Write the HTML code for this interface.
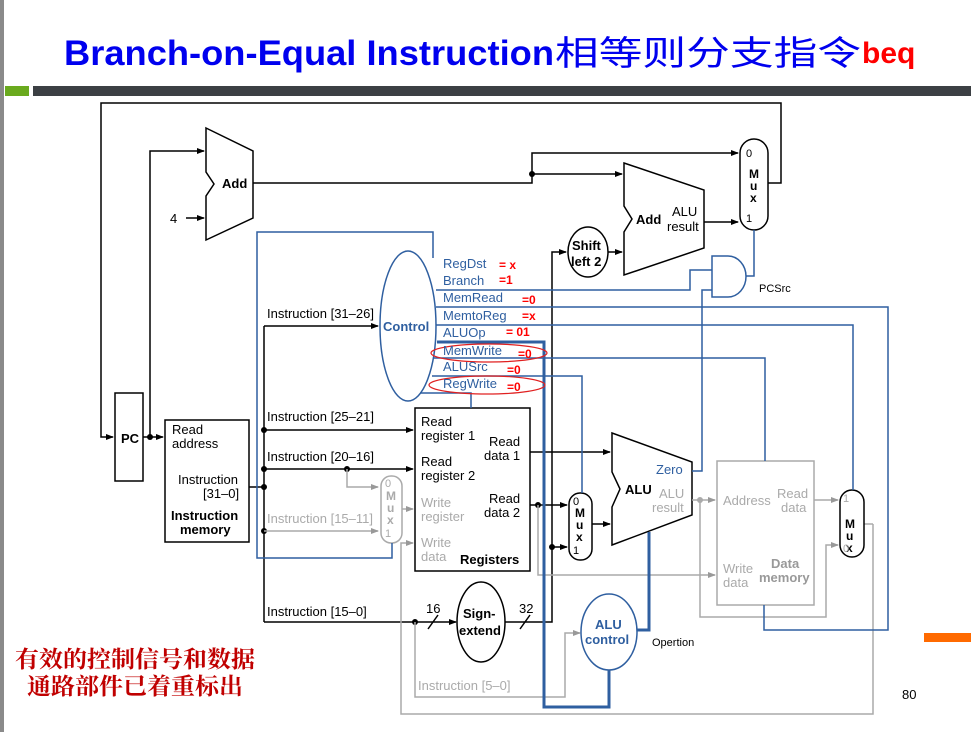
<!DOCTYPE html>
<html><head><meta charset="utf-8"><style>
body{margin:0;background:#fff;}
svg{display:block;}
text{font-family:"Liberation Sans","Noto Sans CJK SC",sans-serif;}
</style></head><body>
<svg width="971" height="732" viewBox="0 0 971 732" xmlns="http://www.w3.org/2000/svg">
<defs>
<marker id="a" markerWidth="8" markerHeight="8" refX="7" refY="4" orient="auto" markerUnits="userSpaceOnUse"><path d="M0,1 L8,4 L0,7 Z" fill="#000"/></marker>
<marker id="g" markerWidth="8" markerHeight="8" refX="7" refY="4" orient="auto" markerUnits="userSpaceOnUse"><path d="M0,1 L8,4 L0,7 Z" fill="#999"/></marker>
</defs>
<rect x="0" y="0" width="4" height="732" fill="#8a8a8a"/>
<text x="64" y="65" font-size="35" font-weight="bold" fill="#0000ee" textLength="490" lengthAdjust="spacingAndGlyphs">Branch-on-Equal Instruction</text>
<text x="555" y="65" font-size="34" fill="#0000ee" font-family="Noto Sans CJK SC,sans-serif" textLength="306" lengthAdjust="spacingAndGlyphs">相等则分支指令</text>
<text x="862" y="63" font-size="30" font-weight="bold" fill="#ff0000">beq</text>
<rect x="5" y="86" width="24" height="10" fill="#6aaa1e"/>
<rect x="33" y="86" width="938" height="10" fill="#3c4044"/>

<g fill="none" stroke="#000" stroke-width="1.5">
<polyline points="768,183 781,183 781,103 101,103 101,437 113,437" marker-end="url(#a)"/>
<rect x="115" y="393" width="28" height="88"/>
<line x1="143" y1="437" x2="163" y2="437" marker-end="url(#a)"/>
<polyline points="150,437 150,151 204,151" marker-end="url(#a)"/>
<line x1="186" y1="218" x2="204" y2="218" marker-end="url(#a)"/>
<polygon points="206,128 253,151 253,218 206,240 206,196 214,184 206,172"/>
<polyline points="253,183 532,183 532,174 622,174" marker-end="url(#a)"/>
<polyline points="532,174 532,153 738,153" marker-end="url(#a)"/>
<polygon points="624,163 704,190 704,248 624,275 624,232 632,219 624,206"/>
<line x1="704" y1="222" x2="738" y2="222" marker-end="url(#a)"/>
<rect x="740" y="139" width="28" height="91" rx="14"/>
<ellipse cx="588" cy="252" rx="20" ry="25"/>
<line x1="608" y1="252" x2="622" y2="252" marker-end="url(#a)"/>
<polyline points="505,622 552,622 552,252 566,252" marker-end="url(#a)"/>
<polyline points="552,547 567,547" marker-end="url(#a)"/>
<rect x="165" y="420" width="84" height="122"/>
<polyline points="249,487 264,487"/>
<line x1="264" y1="326" x2="264" y2="622"/>
<line x1="264" y1="326" x2="378" y2="326" marker-end="url(#a)"/>
<line x1="264" y1="430" x2="413" y2="430" marker-end="url(#a)"/>
<line x1="264" y1="469" x2="413" y2="469" marker-end="url(#a)"/>
<line x1="264" y1="622" x2="456" y2="622" marker-end="url(#a)"/>
<rect x="415" y="408" width="115" height="163"/>
<line x1="530" y1="452" x2="610" y2="452" marker-end="url(#a)"/>
<line x1="530" y1="505" x2="567" y2="505" marker-end="url(#a)"/>
<line x1="592" y1="524" x2="610" y2="524" marker-end="url(#a)"/>
<rect x="569" y="493" width="23" height="67" rx="11"/>
<polygon points="612,433 692,462 692,515 612,545 612,507 620,489 612,472"/>
<ellipse cx="481" cy="622" rx="24" ry="40"/>
<line x1="428" y1="629" x2="438" y2="615"/>
<line x1="520" y1="629" x2="530" y2="615"/>
</g>
<g fill="#000">
<circle cx="150" cy="437" r="3"/><circle cx="532" cy="174" r="3"/>
<circle cx="264" cy="487" r="3"/><circle cx="264" cy="430" r="3"/><circle cx="264" cy="469" r="3"/><circle cx="264" cy="531" r="3"/>
<circle cx="347" cy="469" r="3"/><circle cx="415" cy="622" r="3"/><circle cx="538" cy="505" r="3"/><circle cx="552" cy="547" r="3"/>
</g>
<g fill="none" stroke="#aaa" stroke-width="1.5">
<line x1="264" y1="531" x2="378" y2="531" marker-end="url(#g)"/>
<polyline points="347,469 347,487 378,487" marker-end="url(#g)"/>
<rect x="381" y="476" width="21" height="67" rx="10"/>
<line x1="402" y1="509" x2="413" y2="509" marker-end="url(#g)"/>
<polyline points="873,524 873,714 401,714 401,543 413,543" marker-end="url(#g)"/>
<polyline points="415,622 415,697 565,697 565,633 580,633" marker-end="url(#g)"/>
<polyline points="538,505 538,575 715,575" marker-end="url(#g)"/>
<line x1="692" y1="500" x2="715" y2="500" marker-end="url(#g)"/>
<polyline points="700,500 700,617 826,617 826,545 838,545" marker-end="url(#g)"/>
<rect x="717" y="461" width="97" height="144"/>
<line x1="814" y1="500" x2="838" y2="500" marker-end="url(#g)"/>
<line x1="864" y1="524" x2="873" y2="524"/>
</g>
<circle cx="700" cy="500" r="3" fill="#aaa"/>
<rect x="840" y="490" width="24" height="67" rx="12" fill="none" stroke="#000" stroke-width="1.5"/>
<g fill="none" stroke="#2f5fa0" stroke-width="1.5">
<ellipse cx="408" cy="326" rx="28" ry="75"/>
<polyline points="433,258 433,232 257,232 257,558 392,558 392,543"/>
<polyline points="436,290 690,290 690,270 712,270"/>
<path d="M712,256 L728,256 A18,20.5 0 0 1 728,297 L712,297 Z"/>
<polyline points="746,276 754,276 754,230"/>
<polyline points="692,471 702,471 702,290 712,290"/>
<polyline points="436,307 888,307 888,630 764,630 764,605"/>
<polyline points="436,325 853,325 853,490"/>
<polyline points="434,358 765,358 765,461"/>
<polyline points="432,376 582,376 582,493"/>
<polyline points="420,393 471,393 471,408"/>
<ellipse cx="609" cy="632" rx="28" ry="38"/>
</g>
<g fill="none" stroke="#2f5fa0" stroke-width="3">
<polyline points="437,342 544,342 544,707 609,707 609,670"/>
<polyline points="649,532 649,630 637,630"/>
</g>
<g fill="none" stroke="#e02020" stroke-width="1.2">
<ellipse cx="489" cy="353" rx="58" ry="9"/>
<ellipse cx="487" cy="385" rx="58" ry="9"/>
</g>
<g font-size="13" fill="#000">
<text x="222" y="188" font-weight="bold">Add</text>
<text x="170" y="223">4</text>
<text x="636" y="224" font-weight="bold">Add</text>
<text x="672" y="216">ALU</text><text x="667" y="231">result</text>
<text x="746" y="157" font-size="11">0</text>
<text x="749" y="178" font-size="12" font-weight="bold">M</text>
<text x="750" y="190" font-size="12" font-weight="bold">u</text>
<text x="750" y="202" font-size="12" font-weight="bold">x</text>
<text x="746" y="222" font-size="11">1</text>
<text x="572" y="250" font-weight="bold">Shift</text><text x="571" y="266" font-weight="bold">left 2</text>
<text x="121" y="443" font-weight="bold">PC</text>
<text x="172" y="434">Read</text><text x="172" y="448">address</text>
<text x="178" y="484">Instruction</text><text x="203" y="498">[31–0]</text>
<text x="171" y="520" font-weight="bold">Instruction</text><text x="180" y="534" font-weight="bold">memory</text>
<text x="267" y="318">Instruction [31–26]</text>
<text x="267" y="421">Instruction [25–21]</text>
<text x="267" y="461">Instruction [20–16]</text>
<text x="267" y="616">Instruction [15–0]</text>
<text x="421" y="426">Read</text><text x="421" y="440">register 1</text>
<text x="421" y="466">Read</text><text x="421" y="480">register 2</text>
<text x="489" y="446">Read</text><text x="484" y="460">data 1</text>
<text x="489" y="503">Read</text><text x="484" y="517">data 2</text>
<text x="460" y="564" font-weight="bold">Registers</text>
<text x="463" y="618" font-weight="bold">Sign-</text><text x="459" y="635" font-weight="bold">extend</text>
<text x="426" y="613">16</text><text x="519" y="613">32</text>
<text x="625" y="494" font-weight="bold">ALU</text>
<text x="573" y="505" font-size="11">0</text>
<text x="575" y="517" font-size="12" font-weight="bold">M</text>
<text x="576" y="529" font-size="12" font-weight="bold">u</text>
<text x="576" y="541" font-size="12" font-weight="bold">x</text>
<text x="573" y="554" font-size="11">1</text>
<text x="845" y="528" font-size="12" font-weight="bold">M</text>
<text x="846" y="540" font-size="12" font-weight="bold">u</text>
<text x="846" y="552" font-size="12" font-weight="bold">x</text>
<text x="652" y="646" font-size="11">Opertion</text>
<text x="759" y="292" font-size="11">PCSrc</text>
<text x="902" y="699">80</text>
</g>
<g font-size="13" fill="#aaa">
<text x="267" y="523">Instruction [15–11]</text>
<text x="421" y="507">Write</text><text x="421" y="521">register</text>
<text x="421" y="547">Write</text><text x="421" y="561">data</text>
<text x="385" y="487" font-size="11">0</text>
<text x="386" y="500" font-size="12" font-weight="bold">M</text>
<text x="387" y="512" font-size="12" font-weight="bold">u</text>
<text x="387" y="524" font-size="12" font-weight="bold">x</text>
<text x="385" y="537" font-size="11">1</text>
<text x="418" y="690">Instruction [5–0]</text>
<text x="659" y="498">ALU</text><text x="652" y="512">result</text>
<text x="723" y="505">Address</text>
<text x="777" y="498">Read</text><text x="781" y="512">data</text>
<text x="723" y="573">Write</text><text x="723" y="587">data</text>
<text x="771" y="568" font-weight="bold" fill="#999">Data</text><text x="759" y="582" font-weight="bold" fill="#999">memory</text>
<text x="843" y="502" font-size="11">1</text>
<text x="843" y="552" font-size="11">0</text>
</g>
<g font-size="13" fill="#2f5fa0">
<text x="383" y="331" font-weight="bold">Control</text>
<text x="443" y="268">RegDst</text>
<text x="443" y="285">Branch</text>
<text x="443" y="302">MemRead</text>
<text x="443" y="320">MemtoReg</text>
<text x="443" y="337">ALUOp</text>
<text x="443" y="355">MemWrite</text>
<text x="443" y="371">ALUSrc</text>
<text x="443" y="388">RegWrite</text>
<text x="656" y="474">Zero</text>
<text x="595" y="629" font-weight="bold">ALU</text><text x="585" y="644" font-weight="bold">control</text>
</g>
<g font-size="12" font-weight="bold" fill="#ff0000">
<text x="499" y="269">= x</text>
<text x="499" y="284">=1</text>
<text x="522" y="304">=0</text>
<text x="522" y="320">=x</text>
<text x="506" y="336">= 01</text>
<text x="518" y="358">=0</text>
<text x="507" y="374">=0</text>
<text x="507" y="391">=0</text>
</g>
<g font-size="23" font-weight="bold" fill="#c00000">
<text x="15" y="667" style="font-family:'Noto Serif CJK SC',serif" textLength="240" lengthAdjust="spacingAndGlyphs">有效的控制信号和数据</text>
<text x="27" y="694" style="font-family:'Noto Serif CJK SC',serif" textLength="216" lengthAdjust="spacingAndGlyphs">通路部件已着重标出</text>
</g>
<rect x="924" y="633" width="47" height="9" fill="#ff6a00"/>
</svg>
</body></html>
